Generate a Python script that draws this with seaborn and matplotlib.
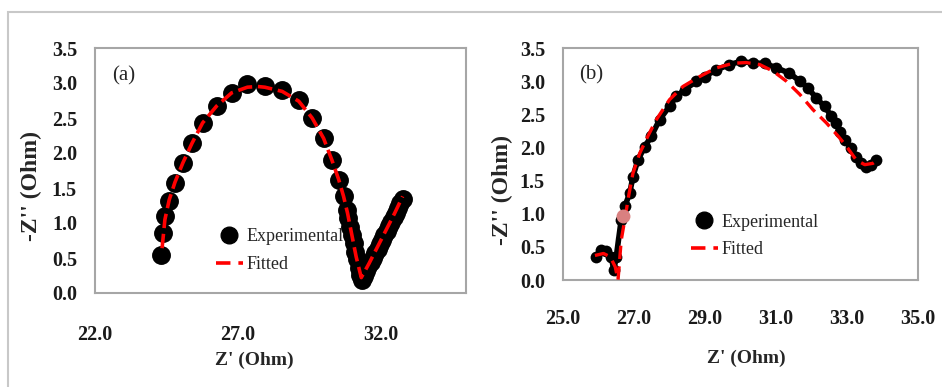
import pandas as pd
import matplotlib.pyplot as plt
import seaborn as sns
from matplotlib.patches import Rectangle
from matplotlib.lines import Line2D
from matplotlib.ticker import FormatStrFormatter

# Panel (a) - experimental points
exp_a_x = [24.30, 24.38, 24.46, 24.61, 24.79, 25.08, 25.40, 25.77, 26.26, 26.79,
           27.34, 27.95, 28.56, 29.14, 29.61, 30.01, 30.30, 30.54, 30.71, 30.83,
           30.88, 30.94, 31.00, 31.06, 31.12, 31.18, 31.24, 31.29, 31.35,
           31.42, 31.50, 31.58, 31.66, 31.74, 31.82, 31.90, 31.98, 32.06, 32.14,
           32.22, 32.30, 32.38, 32.46, 32.54, 32.62, 32.70, 32.78]
exp_a_y = [0.55, 0.86, 1.10, 1.31, 1.57, 1.86, 2.14, 2.43, 2.67, 2.86,
           2.98, 2.96, 2.90, 2.76, 2.50, 2.21, 1.90, 1.62, 1.38, 1.19,
           1.07, 0.95, 0.83, 0.71, 0.59, 0.48, 0.36, 0.26, 0.19,
           0.25, 0.31, 0.38, 0.44, 0.50, 0.57, 0.63, 0.70, 0.76, 0.83,
           0.89, 0.96, 1.02, 1.09, 1.15, 1.22, 1.28, 1.35]

# Panel (a) - fitted curve
fit_a_x = [24.35, 24.45, 24.60, 24.80, 25.08, 25.40, 25.77, 26.26, 26.79, 27.34,
           27.70, 27.95, 28.56, 29.14, 29.61, 30.01, 30.30, 30.54, 30.71, 30.85,
           31.00, 31.15, 31.33, 31.60, 31.90, 32.20, 32.50, 32.78]
fit_a_y = [0.64, 1.05, 1.33, 1.58, 1.86, 2.14, 2.43, 2.67, 2.86, 2.94,
           2.95, 2.94, 2.88, 2.74, 2.50, 2.21, 1.90, 1.62, 1.38, 1.14,
           0.83, 0.52, 0.22, 0.42, 0.66, 0.90, 1.14, 1.38]

# Panel (b) - experimental points
exp_b_x = [25.94, 26.08, 26.22, 26.36, 26.43, 26.50, 26.50, 26.64, 26.74, 26.88,
           26.97, 27.11, 27.30, 27.49, 27.72, 28.00, 28.19, 28.43, 28.76, 28.99,
           29.32, 29.69, 30.02, 30.35, 30.68, 31.01, 31.38, 31.67, 31.90, 32.14,
           32.37, 32.56, 32.70, 32.79, 32.93, 33.12, 33.26, 33.40, 33.54, 33.69,
           33.83]
exp_b_y = [0.35, 0.45, 0.44, 0.35, 0.15, 0.05, 0.65, 0.91, 1.11, 1.31,
           1.56, 1.81, 2.01, 2.17, 2.42, 2.62, 2.77, 2.87, 3.00, 3.07,
           3.17, 3.25, 3.30, 3.27, 3.27, 3.20, 3.12, 3.00, 2.90, 2.74,
           2.62, 2.47, 2.37, 2.24, 2.11, 1.99, 1.86, 1.76, 1.71, 1.74,
           1.81]

# Panel (b) - fitted curve
fit_b_x = [25.90, 26.14, 26.33, 26.47, 26.55, 26.64, 26.74, 26.86, 26.97, 27.16,
           27.39, 27.63, 28.00, 28.38, 28.85, 29.32, 29.79, 30.16, 30.54, 30.92,
           31.29, 31.67, 32.04, 32.42, 32.75, 32.98, 33.26, 33.50, 33.73, 33.87]
fit_b_y = [0.37, 0.40, 0.35, 0.20, 0.00, 0.60, 0.91, 1.30, 1.61, 1.91,
           2.17, 2.42, 2.72, 2.92, 3.07, 3.20, 3.27, 3.28, 3.25, 3.15,
           3.00, 2.80, 2.57, 2.37, 2.17, 2.02, 1.81, 1.74, 1.76, 1.81]

# odd faded point in panel (b)
pink_x = [26.69]
pink_y = [0.96]

y_ticks = [0.0, 0.5, 1.0, 1.5, 2.0, 2.5, 3.0, 3.5]
a_xticks = [22.0, 27.0, 32.0]
b_xticks = [25.0, 27.0, 29.0, 31.0, 33.0, 35.0]

sns.set_style("white")
plt.rcParams['font.family'] = ['Liberation Serif', 'DejaVu Serif']

fig = plt.figure(figsize=(9.42, 3.87), dpi=100)
fig.patches.append(Rectangle((8 / 942, -0.1), 2.0, (374 + 40) / 387, transform=fig.transFigure,
                             fill=False, edgecolor="#c8c8c8", linewidth=1.5))

ax_a = fig.add_axes([95 / 942, 94 / 387, 371 / 942, 245 / 387])
ax_b = fig.add_axes([563 / 942, 107 / 387, 355 / 942, 232 / 387])

grey = "#a6a6a6"

# panel (a)
sns.scatterplot(x=exp_a_x, y=exp_a_y, ax=ax_a, color="black", s=185,
                linewidth=0, zorder=2)
sns.lineplot(x=fit_a_x, y=fit_a_y, ax=ax_a, sort=False, color="red", linewidth=2.6, zorder=3)
ax_a.lines[-1].set_dashes([4, 1.6])

# panel (b)
sns.lineplot(x=exp_b_x, y=exp_b_y, ax=ax_b, sort=False, color="black", linewidth=4,
             marker="o", markersize=8.5, markeredgewidth=0, zorder=2)
sns.lineplot(x=fit_b_x, y=fit_b_y, ax=ax_b, sort=False, color="red", linewidth=2.4, zorder=3)
ax_b.lines[-1].set_dashes([4, 2.2])
sns.scatterplot(x=pink_x, y=pink_y, ax=ax_b, color="#d98080", s=100, linewidth=0, zorder=4)

handles = [Line2D([], [], color="black", marker="o", linestyle="None", markersize=12),
           Line2D([], [], color="red", linestyle=(0, (4, 2.2)), linewidth=2.6)]

panels = [(ax_a, (22, 35), a_xticks, "(a)", 0.325, 0.172, 0.43, -0.273, 0.437, 17.0),
          (ax_b, (25, 35), b_xticks, "(b)", 0.36, 0.19, 0.517, -0.336, 0.39, 15.0)]
for ax, xlim, xt, tag, lx, ly, xlab_x, xlab_y, ylab_y, xpad in panels:
    ax.set_xlim(*xlim)
    ax.set_ylim(0, 3.5)
    ax.set_xticks(xt)
    ax.set_yticks(y_ticks)
    ax.xaxis.set_major_formatter(FormatStrFormatter("%.1f"))
    ax.yaxis.set_major_formatter(FormatStrFormatter("%.1f"))
    for sp in ax.spines.values():
        sp.set_color(grey)
        sp.set_linewidth(1.5)
    ax.tick_params(axis="x", direction="out", length=6, width=1.2, color=grey, pad=xpad)
    ax.tick_params(axis="y", direction="out", length=6, width=1.2, color=grey, pad=7)
    for lab in ax.get_xticklabels() + ax.get_yticklabels():
        lab.set_fontfamily("Liberation Serif")
        lab.set_fontweight("bold")
        lab.set_fontsize(14.5)
        lab.set_color("#1a1a1a")
    ax.set_xlabel("Z' (Ohm)", fontsize=14, fontweight="bold")
    ax.set_ylabel("-Z'' (Ohm)", fontsize=17, fontweight="bold")
    ax.xaxis.label.set_va("center")
    ax.yaxis.label.set_va("center")
    ax.xaxis.set_label_coords(xlab_x, xlab_y)
    ax.yaxis.set_label_coords(-0.17, ylab_y)
    ax.text(0.045, 0.885, tag, transform=ax.transAxes, fontsize=15, ha="left", va="center")
    ax.legend(handles, ["Experimental", "Fitted"], loc="center left", bbox_to_anchor=(lx, ly),
              frameon=False, borderpad=0, borderaxespad=0, handlelength=1.5,
              handletextpad=0.2, labelspacing=0.6,
              prop=dict(family="Liberation Serif", size=13))

fig.savefig("out.png", dpi=100)
